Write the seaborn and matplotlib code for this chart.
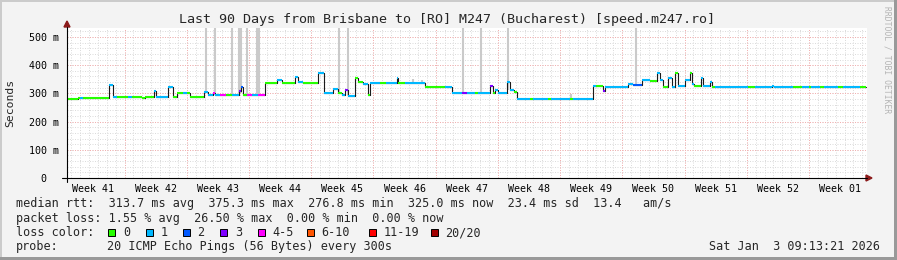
import numpy as np
import pandas as pd
import matplotlib
matplotlib.use("Agg")
import matplotlib.pyplot as plt
import seaborn as sns
from matplotlib.lines import Line2D
from matplotlib.patches import Rectangle, Polygon

# ---------------- data ----------------
# median rtt as piecewise-constant segments: start day (from graph start), rtt in ms, lost pings (of 20)
seg_start = [0.00, 1.24, 1.50, 1.75, 4.76, 5.14, 5.59, 6.86, 7.28, 8.40, 8.77, 9.79, 10.01, 11.40,
             11.89, 12.34, 13.10, 13.50, 13.84, 15.41, 15.90, 16.46, 16.65, 17.21, 17.89, 18.53,
             19.38, 19.57, 19.77, 20.22, 20.81, 21.49, 22.27, 23.59, 24.19, 25.65, 25.99, 26.55,
             28.24, 28.91, 29.92, 30.48, 30.94, 31.28, 31.61, 32.40, 32.74, 33.30, 33.86, 34.09,
             35.21, 35.89, 37.12, 37.29, 38.02, 40.27, 42.52, 43.28, 44.40, 44.97, 45.90, 46.20,
             47.59, 47.96, 48.15, 48.52, 49.50, 49.84, 50.29, 50.66, 52.09, 52.42, 54.11, 54.45,
             56.59, 56.92, 59.21, 59.50, 60.33, 60.52, 63.11, 63.67, 64.69, 65.59, 66.37, 66.71,
             67.05, 67.61, 68.06, 68.40, 68.74, 69.53, 70.09, 70.32, 70.54, 71.32, 71.55, 72.34,
             72.56, 72.90, 76.61, 77.40, 79.31, 79.53, 81.67, 82.68, 83.47, 83.70, 84.71, 85.16,
             86.73, 87.30, 89.21]
seg_rtt = [279, 285, 285, 285, 329, 288, 288, 288, 288, 285, 288, 310, 288, 324,
           286, 302, 302, 302, 288, 306, 294, 300, 294, 294, 294, 295,
           310, 324, 294, 294, 294, 294, 336, 347, 336, 359, 342, 336,
           371, 300, 316, 300, 294, 312, 292, 356, 341, 332, 294, 336,
           336, 336, 356, 336, 336, 324, 324, 300, 300, 300, 300, 300,
           326, 300, 312, 300, 339, 312, 305, 280, 280, 280, 280, 280,
           280, 280, 326, 326, 308, 322, 332, 330, 347, 344, 371, 347,
           323, 353, 323, 371, 325, 347, 371, 335, 326, 353, 325, 339,
           324, 324, 324, 324, 327, 324, 324, 324, 324, 324, 324, 324,
           324, 324, 324]
seg_loss = [0, 0, 1, 0, 1, 1, 0, 1, 0, 0, 0, 1, 1, 1,
            0, 0, 1, 0, 0, 1, 1, 4, 1, 4, 0, 1,
            3, 2, 0, 4, 1, 4, 0, 1, 0, 1, 1, 0,
            1, 1, 1, 0, 1, 3, 1, 0, 0, 1, 0, 1,
            0, 1, 1, 0, 1, 0, 1, 1, 3, 1, 0, 1,
            3, 0, 1, 1, 1, 1, 0, 1, 0, 1, 0, 1,
            0, 1, 1, 0, 3, 1, 1, 2, 1, 0, 1, 1,
            0, 1, 1, 0, 1, 1, 0, 1, 0, 1, 1, 1,
            0, 1, 0, 1, 1, 1, 0, 1, 0, 1, 0, 1,
            0, 1, 0]
series_end = 89.89

# smoke (ping spread) columns that stand out: day, low ms, high ms
smoke_day = [15.64, 16.65, 18.56, 19.40, 19.57, 20.25, 21.37, 21.60, 30.60, 31.61,
             38.92, 39.94, 44.58, 46.57, 49.61, 56.70, 64.00]
smoke_lo = [300, 296, 296, 300, 300, 296, 296, 296, 300, 296, 336, 336, 300, 300, 312, 280, 330]
smoke_hi = [600, 600, 600, 600, 600, 600, 600, 600, 600, 600, 352, 348, 600, 600, 600, 297, 600]

week_labels = ["Week 41", "Week 42", "Week 43", "Week 44", "Week 45", "Week 46", "Week 47",
               "Week 48", "Week 49", "Week 50", "Week 51", "Week 52", "Week 01"]
first_week_edge = 6.47
y_ticks = [0, 100, 200, 300, 400, 500]
y_labels = ["0  ", "100 m", "200 m", "300 m", "400 m", "500 m"]

loss_names = ["0", "1", "2", "3", "4-5", "6-10", "11-19", "20/20"]
loss_colors = ["#26ff00", "#00b8ff", "#0059ff", "#7e00ff", "#ff00ff", "#ff5500", "#ff0000", "#a10000"]

title = "Last 90 Days from Brisbane to [RO] M247 (Bucharest) [speed.m247.ro]"
line_rtt = "median rtt:  313.7 ms avg  375.3 ms max  276.8 ms min  325.0 ms now  23.4 ms sd  13.4   am/s"
line_loss = "packet loss: 1.55 % avg  26.50 % max  0.00 % min  0.00 % now"
line_probe = "20 ICMP Echo Pings (56 Bytes) every 300s"
stamp = "Sat Jan  3 09:13:21 2026"


def loss_class(n):
    if n <= 3:
        return n
    if n <= 5:
        return 4
    if n <= 10:
        return 5
    if n <= 19:
        return 6
    return 7


# ---------------- figure ----------------
sns.set_style("white")
plt.rcParams["font.family"] = ["DejaVu Sans Mono"]

W, H = 897, 260
BG = "#f3f3f3"
fig = plt.figure(figsize=(W / 100, H / 100), dpi=100, facecolor=BG)


def fx(px):
    return px / W


def fy(py):
    return 1 - py / H


ax = fig.add_axes([fx(67), fy(178), 800 / W, 150 / H])
ax.set_facecolor("white")
ax.set_xlim(0, 90)
ax.set_ylim(0, 532)
for s in ax.spines.values():
    s.set_visible(False)

dot = (0, (1, 1.5))
# minor grid
day_lines = np.arange(first_week_edge - 6, 90, 1.0)
day_lines = day_lines[day_lines > 0.2]
ax.vlines(day_lines, 0, 532, colors="#dcdcdc", lw=0.72, linestyles=dot, zorder=0)
ax.hlines(np.arange(20, 532, 20), 0, 90, colors="#dcdcdc", lw=0.72, linestyles=dot, zorder=0)
# major grid
week_edges = np.arange(first_week_edge, 90, 7.0)
ax.vlines(week_edges, 0, 532, colors="#f4b0b0", lw=0.72, linestyles=dot, zorder=1)
ax.hlines(y_ticks[1:], 0, 90, colors="#f4b0b0", lw=0.72, linestyles=dot, zorder=1)

# smoke
ax.vlines(smoke_day, smoke_lo, smoke_hi, colors="#cacaca", lw=1.5, zorder=2)

# median line: black steps with loss-coloured horizontals
df = pd.DataFrame({"day": seg_start + [series_end], "rtt": seg_rtt + [seg_rtt[-1]]})
sns.lineplot(data=df, x="day", y="rtt", drawstyle="steps-post", color="#1a1a1a",
             lw=0.8, ax=ax, legend=False, zorder=3)
seg_end = seg_start[1:] + [series_end]
cols = [loss_colors[loss_class(n)] for n in seg_loss]
ax.hlines(seg_rtt, seg_start, seg_end, colors=cols, lw=1.5, zorder=4)
ax.set_xlabel("")
ax.set_ylabel("")

# ticks
week_centers = week_edges - 3.5
week_centers = np.append(week_centers, week_edges[-1] + 3.5)[:len(week_labels)]
ax.set_xticks(week_edges)
ax.set_xticklabels([])
ax.set_xticks(week_centers, minor=True)
ax.set_xticklabels(week_labels, minor=True)
ax.tick_params(axis="x", which="major", length=2.5, width=0.7, color="#e08080", direction="out")
ax.tick_params(axis="x", which="minor", length=0, pad=4.0, labelsize=7.2, labelcolor="black")
ax.set_yticks(y_ticks)
ax.set_yticklabels(y_labels)
ax.tick_params(axis="y", which="major", length=2.5, width=0.7, color="#555555", pad=3.0,
               labelsize=7.2, labelcolor="black", direction="out")

# axes lines + arrows
fig.add_artist(Line2D([fx(62), fx(867)], [fy(178), fy(178)], color="black", lw=0.8))
fig.add_artist(Line2D([fx(67), fx(67)], [fy(182), fy(27)], color="black", lw=0.8))
fig.add_artist(Polygon([[fx(866), fy(175)], [fx(872), fy(178)], [fx(866), fy(181)]],
                       closed=True, color="#8b1a1a"))
fig.add_artist(Polygon([[fx(64), fy(27)], [fx(67), fy(21)], [fx(70), fy(27)]],
                       closed=True, color="#8b1a1a"))

# texts
fig.text(fx(446.5), fy(19), title, ha="center", va="center", fontsize=9.6)
fig.text(fx(10), fy(103), "Seconds", rotation=90, ha="center", va="center", fontsize=8.2)
fig.text(fx(886.5), fy(60), "RRDTOOL / TOBI OETIKER", rotation=270, ha="center", va="center",
         fontsize=5.8, color="#b4b4b4")

LF = 8.5
fig.text(fx(16), fy(204), line_rtt, ha="left", va="center", fontsize=LF)
fig.text(fx(16), fy(218.5), line_loss, ha="left", va="center", fontsize=LF)
fig.text(fx(16), fy(232.5), "loss color:", ha="left", va="center", fontsize=LF)
fig.text(fx(16), fy(246.7), "probe:", ha="left", va="center", fontsize=LF)
fig.text(fx(107), fy(246.7), line_probe, ha="left", va="center", fontsize=LF)
fig.text(fx(880), fy(246.7), stamp, ha="right", va="center", fontsize=LF)

box_x = [108.3, 145.7, 183.0, 220.3, 257.7, 307.0, 369.3, 430.7]
for bx, name, c in zip(box_x, loss_names, loss_colors):
    fig.add_artist(Rectangle((fx(bx), fy(235.5)), 7 / W, 7 / H, facecolor=c,
                             edgecolor="black", lw=0.7, transform=fig.transFigure))
    fig.text(fx(bx + 14.5), fy(232.5), name, ha="left", va="center", fontsize=LF)

# frame (3D shade)
fig.add_artist(Rectangle((0, 1 - 2 / H), 1, 2 / H, facecolor="#cbcbcb", lw=0, transform=fig.transFigure))
fig.add_artist(Rectangle((0, 0), 2 / W, 1, facecolor="#cbcbcb", lw=0, transform=fig.transFigure))
fig.add_artist(Rectangle((0, 0), 1, 3 / H, facecolor="#999999", lw=0, transform=fig.transFigure))
fig.add_artist(Rectangle((1 - 3 / W, 0), 3 / W, 1, facecolor="#999999", lw=0, transform=fig.transFigure))

fig.savefig("out.png", dpi=100, facecolor=BG)
